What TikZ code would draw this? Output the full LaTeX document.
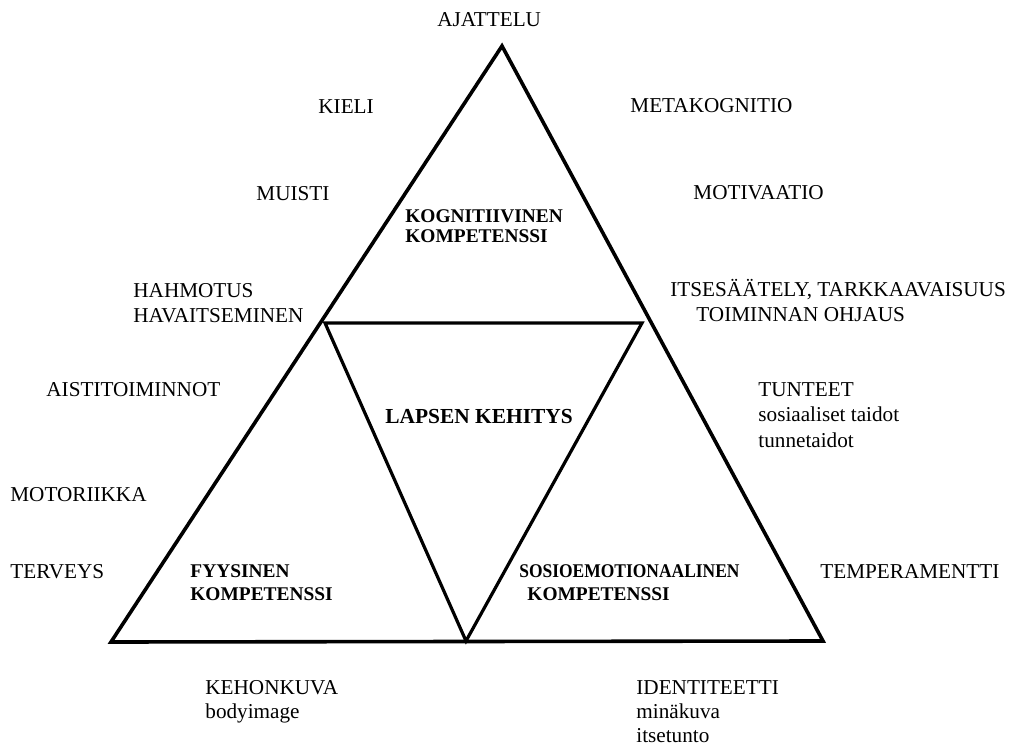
\documentclass[tikz,border=0pt]{standalone}
\usepackage{fontspec}
\setmainfont{Liberation Serif}
\begin{document}
\begin{tikzpicture}[x=0.5pt,y=-0.5pt,
  lbl/.style={anchor=base west,inner sep=0pt,font=\fontsize{10.6}{12.5}\selectfont},
  blbl/.style={anchor=base west,inner sep=0pt,font=\fontsize{9.7}{11}\selectfont\bfseries},
  centerlbl/.style={anchor=base west,inner sep=0pt,font=\fontsize{10.7}{12}\selectfont\bfseries},
  tri/.style={line width=1.8pt,line join=miter,black}]
\useasboundingbox (0,0) rectangle (1033,753);
% outer triangle
\coordinate (A) at (502,46);
\coordinate (BL) at (111,642);
\coordinate (BR) at (823,641);
% inner triangle
\coordinate (IL) at (325,323);
\coordinate (IR) at (642,323);
\coordinate (IB) at (466,641);
\draw[tri] (A) -- (BR) -- (BL) -- cycle;
\draw[tri,line width=1.6pt] (IL) -- (IR) -- (IB) -- cycle;
% outer labels
\node[lbl] (ajattelu) at (437,27) {AJATTELU};
\node[lbl] (kieli) at (318,114) {KIELI};
\node[lbl] (muisti) at (256,201) {MUISTI};
\node[lbl] (hahmotus) at (133,298) {HAHMOTUS};
\node[lbl] (havaits) at (133,323) {HAVAITSEMINEN};
\node[lbl] (metak) at (630,113) {METAKOGNITIO};
\node[lbl] (motiv) at (693,200) {MOTIVAATIO};
\node[lbl] (itses) at (670,297) {ITSESÄÄTELY, TARKKAAVAISUUS};
\node[lbl] (toim) at (696,322) {TOIMINNAN OHJAUS};
\node[lbl] (aisti) at (46,397) {AISTITOIMINNOT};
\node[lbl] (tunteet) at (758,397) {TUNTEET};
\node[lbl] (sosiaal) at (758,422) {sosiaaliset taidot};
\node[lbl] (tunneta) at (758,447) {tunnetaidot};
\node[lbl] (motor) at (10,502) {MOTORIIKKA};
\node[lbl] (terveys) at (10,578) {TERVEYS};
\node[lbl] (temper) at (820,578) {TEMPERAMENTTI};
\node[lbl] (kehon) at (205,694) {KEHONKUVA};
\node[lbl] (bodyim) at (205,718) {bodyimage};
\node[lbl] (ident) at (636,694) {IDENTITEETTI};
\node[lbl] (minak) at (636,718) {minäkuva};
\node[lbl] (itset) at (636,742) {itsetunto};
% inner labels
\node[blbl] (kog1) at (405,223) {KOGNITIIVINEN};
\node[blbl] (kog2) at (405,243) {KOMPETENSSI};
\node[centerlbl] (lapsen) at (385,423) {LAPSEN KEHITYS};
\node[blbl] (fyys1) at (190,577) {FYYSINEN};
\node[blbl] (fyys2) at (190,600) {KOMPETENSSI};
\node[blbl,xscale=0.9] (sosio1) at (519,577) {SOSIOEMOTIONAALINEN};
\node[blbl] (sosio2) at (527,600) {KOMPETENSSI};
\end{tikzpicture}
\end{document}
